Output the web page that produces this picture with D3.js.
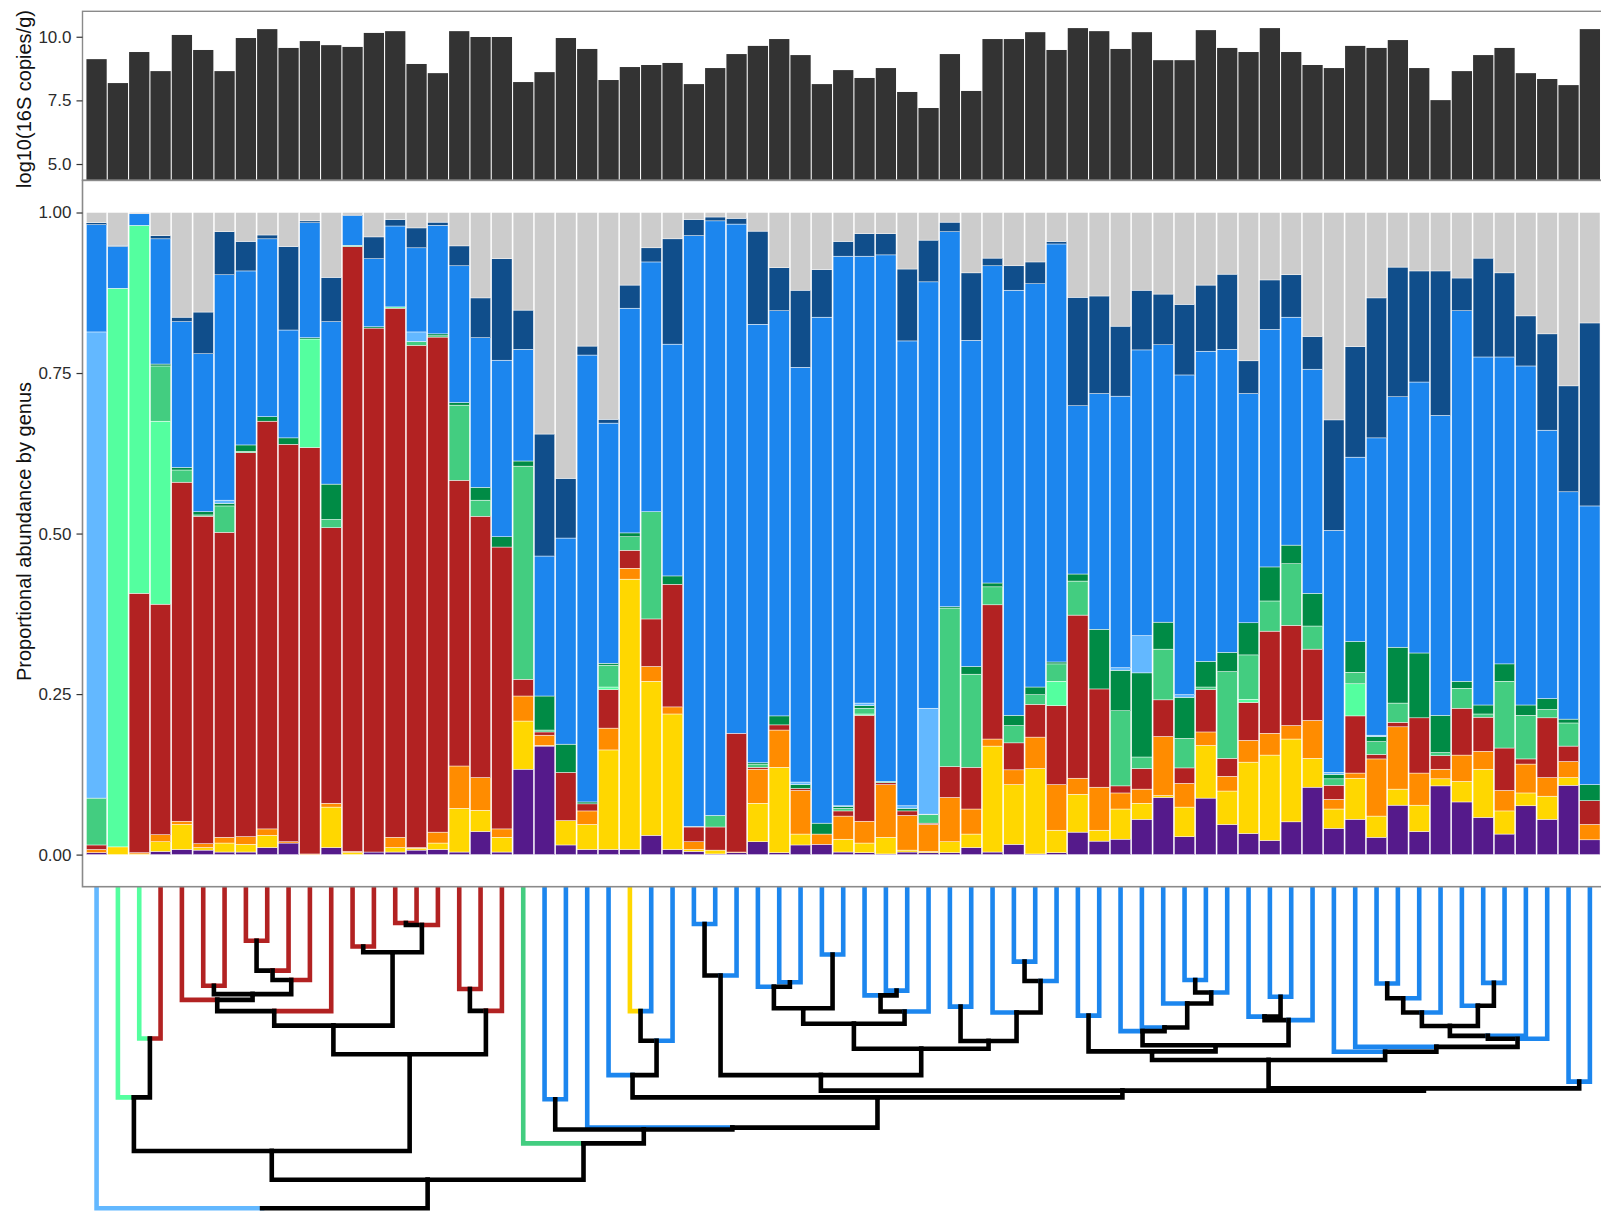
<!DOCTYPE html>
<html>
<head>
<meta charset="utf-8">
<script src="https://cdn.jsdelivr.net/npm/d3@7"></script>
<style>
  html, body { margin: 0; padding: 0; background: #ffffff; }
  svg { display: block; }
  text { font-family: "Liberation Sans", Arial, Helvetica, sans-serif; }
</style>
</head>
<body>
<svg id="chart" width="1601" height="1215"></svg>
<script>
// ---- samples (in dendrogram order) ----
const samples = d3.range(1, 72).map(i => "S" + String(i).padStart(2, "0"));

// ---- total bacterial load, log10(16S copies/g) ----
const log16S = [
  9.12, 8.18, 9.40, 8.65, 10.07, 9.48, 8.65, 9.95, 10.30, 9.56,
  9.83, 9.67, 9.60, 10.15, 10.22, 8.93, 8.57, 10.22, 9.99, 9.99,
  8.22, 8.61, 9.95, 9.52, 8.30, 8.81, 8.89, 8.97, 8.14, 8.77,
  9.32, 9.64, 9.91, 9.28, 8.14, 8.69, 8.38, 8.77, 7.83, 7.20,
  9.32, 7.87, 9.91, 9.91, 10.18, 9.48, 10.34, 10.22, 9.52, 10.18,
  9.08, 9.08, 10.26, 9.56, 9.40, 10.34, 9.40, 8.89, 8.77, 9.64,
  9.56, 9.87, 8.77, 7.51, 8.65, 9.28, 9.56, 8.57, 8.34, 8.10,
  10.30
];
const log16STicks = [5.0, 7.5, 10.0];

// ---- proportional abundance by genus (stacked bottom to top) ----
const purpleGenus = [
  .003,0,0,.005,.008,.007,.004,.004,.011,.018,
  0,.011,0,.004,.004,.007,.008,.004,.036,.004,
  .133,.169,.015,.008,.008,.008,.030,.008,.005,.001,
  .003,.020,.003,.015,.016,.004,.003,.001,.004,.003,
  .003,.011,.004,.016,.001,.003,.035,.021,.024,.055,
  .089,.028,.088,.047,.033,.022,.051,.105,.041,.055,
  .027,.077,.036,.107,.082,.058,.032,.076,.055,.108,
  .023
];
const goldGenus = [
  0,.012,.001,.015,.039,.004,.014,.012,.019,0,
  0,.063,.003,0,.007,.003,.010,.068,.033,.023,
  .075,.001,.038,.039,.155,.421,.240,.211,.003,.006,
  0,.060,.133,.017,0,.020,.015,.026,.003,.002,
  .017,.021,.165,.093,.133,.035,.059,.017,.047,.025,
  .003,.046,.082,.052,.111,.133,.129,.045,.030,.064,
  .033,.025,.041,.011,.032,.075,.036,.020,.036,.012,
  0
];
const orangeGenus = [
  .005,0,.002,.011,.005,.006,.009,.012,.010,.002,
  .001,.006,.002,0,.016,.001,.017,.066,.051,.013,
  .039,.016,0,.021,.034,.017,.023,.011,.012,0,
  .001,.053,.058,.068,.016,.036,.034,.082,.054,.042,
  .069,.039,.011,.023,.049,.071,.025,.067,.025,.022,
  .092,.037,.021,.023,.034,.034,.021,.059,.015,.008,
  .089,.097,.050,.015,.041,.028,.032,.045,.029,.025,
  .024
];
const redGenus = [
  .007,0,.404,.359,.528,.510,.475,.598,.635,.619,
  .633,.429,.942,.816,.824,.782,.771,.445,.407,.439,
  .026,.005,.075,.011,.060,.028,.074,.191,.023,.036,
  .185,.003,.008,.003,0,.008,.165,.003,.007,.002,
  .048,.065,.209,.042,.051,.123,.254,.153,.011,.032,
  .057,.024,.066,.028,.059,.159,.156,.111,.022,.089,
  .007,.007,.086,.021,.073,.053,.066,.008,.093,.024,
  .037
];
const mintGenus = [
  0,.870,.573,.285,0,0,0,0,0,0,
  .169,0,0,0,.002,0,0,0,0,0,
  0,0,0,0,.004,0,0,0,0,0,
  0,0,0,0,0,0,.002,0,0,0,
  0,0,0,0,0,.038,0,0,0,0,
  0,0,0,0,.005,0,0,0,0,.050,
  0,0,0,0,0,0,0,0,0,0,
  0
];
const seaGreenGenus = [
  .073,0,0,.086,.019,.002,.041,.002,0,0,
  0,.013,.002,0,0,.006,.002,.117,.025,0,
  .332,.003,0,0,.034,.021,.167,0,0,.018,
  0,.005,0,0,0,.004,.009,.002,0,.013,
  .247,.145,.028,.027,.015,.027,.053,0,.117,.018,
  .079,.046,.004,.135,.069,.047,.096,.036,.010,.018,
  .020,.030,0,.005,.031,.005,.104,.068,.013,.036,
  0
];
const darkGreenGenus = [
  0,0,0,.003,.004,.005,.004,.010,.007,.010,
  .002,.055,0,.002,0,0,.003,.004,.020,.016,
  .008,.053,.044,.003,.003,.006,0,.013,.001,0,
  0,.002,.014,.006,.017,.003,.004,0,.004,.001,
  .002,.012,.006,.016,.012,.003,.011,.093,.063,.131,
  .042,.064,.040,.030,.050,.053,.029,.051,.007,.048,
  .008,.087,.101,.058,.011,.014,.027,.016,.017,.006,
  .025
];
const skyBlueGenus = [
  .726,0,0,0,0,0,.005,0,0,0,
  0,0,0,0,0,.015,0,0,0,0,
  0,0,0,0,0,0,0,0,0,0,
  0,0,0,.004,0,.001,.004,0,.004,.165,
  0,0,0,0,0,0,0,0,.004,.058,
  0,.004,0,0,0,0,0,0,.003,0,
  .002,0,0,0,0,0,0,0,0,0,
  0
];
const blueGenus = [
  .167,.065,.018,.195,.227,.246,.351,.271,.277,.168,
  .179,.253,.046,.106,.126,.131,.169,.213,.233,.275,
  .174,.218,.321,.696,.374,.350,.389,.361,.920,.926,
  .793,.683,.631,.646,.788,.856,.696,.820,.724,.664,
  .584,.508,.494,.662,.628,.651,.262,.367,.423,.445,
  .432,.498,.483,.472,.357,.370,.355,.349,.377,.287,
  .463,.390,.422,.467,.577,.542,.478,.528,.418,.354,
  .434
];
const navyGenus = [
  .003,.002,0,.005,.007,.065,.067,.046,.006,.130,
  .003,.069,.001,.034,.010,.031,.005,.031,.062,.158,
  .061,.190,.093,.014,.006,.036,.022,.164,.025,.006,
  .009,.145,.067,.120,.074,.023,.035,.033,.112,.065,
  .015,.105,.012,.038,.034,.004,.169,.152,.109,.093,
  .079,.110,.103,.117,.051,.077,.066,.051,.172,.172,
  .218,.202,.173,.225,.051,.154,.131,.078,.150,.165,
  .285
];
const otherGenera = [
  .016,.051,.002,.036,.163,.155,.030,.045,.035,.053,
  .013,.101,.004,.038,.011,.024,.015,.052,.133,.072,
  .152,.345,.414,.208,.322,.113,.055,.041,.011,.007,
  .009,.029,.086,.121,.089,.045,.033,.033,.088,.043,
  .015,.094,.071,.083,.077,.045,.132,.130,.177,.121,
  .127,.143,.113,.096,.231,.105,.097,.193,.323,.209,
  .133,.085,.091,.091,.102,.071,.094,.161,.189,.270,
  .172
];
const abundanceTicks = [0, 0.25, 0.5, 0.75, 1.0];

// ---- sample clustering: merges (negative = leaf index, positive = earlier merge row) ----
const mergePairs = [
  [-8,-9],[1,-10],[2,-11],[-6,-7],[4,3],[-5,5],[6,-12],[-13,-14],[-15,-16],[9,-17],
  [8,10],[7,11],[-18,-19],[13,-20],[12,14],[-3,-4],[-2,16],[17,15],[-22,-23],[-26,-27],
  [20,-28],[-25,21],[-29,-30],[23,-31],[-33,-34],[-32,25],[-35,-36],[26,27],[-38,-39],[-37,29],
  [30,-40],[28,31],[-41,-42],[-44,-45],[34,-46],[-43,35],[33,36],[32,37],[24,38],[-47,-48],
  [-52,-53],[41,-54],[-51,42],[-50,43],[-49,44],[-56,-57],[-55,46],[47,-58],[45,48],[40,49],
  [-61,-62],[51,-63],[52,-64],[-66,-67],[-65,54],[53,55],[56,-68],[57,-69],[-60,58],[-59,59],
  [50,60],[-70,-71],[61,62],[39,63],[22,64],[-24,65],[19,66],[-21,67],[18,68],[-1,69]
];
const mergeHeights = [
  .168,.261,.290,.308,.334,.352,.387,.186,.113,.119,
  .204,.432,.318,.386,.521,.472,.655,.822,.661,.387,
  .479,.586,.116,.276,.297,.311,.211,.378,.323,.338,
  .388,.426,.373,.233,.293,.391,.480,.504,.586,.401,
  .290,.329,.363,.438,.449,.342,.404,.415,.493,.512,
  .301,.347,.391,.299,.370,.433,.464,.473,.498,.513,
  .539,.606,.627,.634,.655,.749,.755,.798,.911,1.000
];

// ---- genus order and palette ----
const genera = [
  { key: "purpleGenus",    values: purpleGenus,    color: "#551A8B" },
  { key: "goldGenus",      values: goldGenus,      color: "#FFD700" },
  { key: "orangeGenus",    values: orangeGenus,    color: "#FF8C00" },
  { key: "redGenus",       values: redGenus,       color: "#B22222" },
  { key: "mintGenus",      values: mintGenus,      color: "#54FF9F" },
  { key: "seaGreenGenus",  values: seaGreenGenus,  color: "#43CD80" },
  { key: "darkGreenGenus", values: darkGreenGenus, color: "#008B45" },
  { key: "skyBlueGenus",   values: skyBlueGenus,   color: "#63B8FF" },
  { key: "blueGenus",      values: blueGenus,      color: "#1C86EE" },
  { key: "navyGenus",      values: navyGenus,      color: "#104E8B" },
  { key: "otherGenera",    values: otherGenera,    color: "#CCCCCC" }
];
const colorOf = Object.fromEntries(genera.map(g => [g.key, g.color]));

const rows = samples.map((s, i) => {
  const r = { sample: s };
  genera.forEach(g => { r[g.key] = g.values[i]; });
  return r;
});

// ---- layout ----
const plotLeft = 82.5, plotRight = 1603;
const topPanel = { top: 11.3, bottom: 180.3 };
const mainPanel = { top: 180.4, bottom: 886.7 };
const dendroBottom = 1208.3;
const borderColor = "#8a8a8a";

const svg = d3.select("#chart");

const x = d3.scaleBand()
  .domain(samples)
  .range([85.9, 85.9 + samples.length * 21.333])
  .paddingInner(0.05)
  .paddingOuter(0.025);

const yTop = d3.scaleLinear().domain([4.36, 11.0]).range([topPanel.bottom, topPanel.top]);
const yMain = d3.scaleLinear().domain([-0.05, 1.05]).range([mainPanel.bottom, mainPanel.top]);
const yTree = d3.scaleLinear().domain([0, 1]).range([mainPanel.bottom, dendroBottom]);

// ---- top panel: load bars ----
svg.append("rect")
  .attr("x", plotLeft).attr("y", topPanel.top)
  .attr("width", plotRight - plotLeft).attr("height", topPanel.bottom - topPanel.top)
  .attr("fill", "#ffffff");

svg.append("g")
  .selectAll("rect")
  .data(samples)
  .join("rect")
  .attr("x", d => x(d))
  .attr("width", x.bandwidth())
  .attr("y", (d, i) => yTop(log16S[i]))
  .attr("height", (d, i) => topPanel.bottom - yTop(log16S[i]))
  .attr("fill", "#333333");

// ---- main panel: stacked genus bars ----
const stacked = d3.stack().keys(genera.map(g => g.key))(rows);

svg.append("g")
  .selectAll("g")
  .data(stacked)
  .join("g")
  .attr("fill", s => colorOf[s.key])
  .selectAll("rect")
  .data(s => s.filter(d => d[1] - d[0] > 0))
  .join("rect")
  .attr("x", d => x(d.data.sample))
  .attr("width", x.bandwidth())
  .attr("y", d => yMain(d[1]))
  .attr("height", d => yMain(d[0]) - yMain(d[1]))
  .attr("stroke", "#ffffff")
  .attr("stroke-width", 0.45);

// ---- dendrogram below the bars ----
const coreGenera = genera.filter(g => g.key !== "otherGenera");
const leafColor = k => {
  const i = k - 1;
  let best = coreGenera[0];
  coreGenera.forEach(g => { if (g.values[i] > best.values[i]) best = g; });
  return best.color;
};
const leafX = k => x(samples[k - 1]) + x.bandwidth() / 2;

const nodeX = [];
const place = ref => ref < 0
  ? { x: leafX(-ref), h: 0, leaf: -ref }
  : { x: nodeX[ref - 1], h: mergeHeights[ref - 1], leaf: null };

const branches = [];
mergePairs.forEach(([a, b], i) => {
  const pa = place(a), pb = place(b);
  nodeX[i] = (pa.x + pb.x) / 2;
  const h = mergeHeights[i];
  [pa, pb].forEach(p => {
    branches.push({
      x0: p.x, h0: p.h, h1: h, x1: nodeX[i],
      color: p.leaf ? leafColor(p.leaf) : "#000000"
    });
  });
});

svg.append("g")
  .attr("fill", "none")
  .attr("stroke-width", 4.6)
  .attr("stroke-linecap", "square")
  .attr("stroke-linejoin", "miter")
  .selectAll("path")
  .data(branches)
  .join("path")
  .attr("stroke", d => d.color)
  .attr("d", d => `M${d.x0},${yTree(d.h0)}V${yTree(d.h1)}H${d.x1}`);

// cover the square caps that poke above the panel edge
svg.append("rect")
  .attr("x", plotLeft).attr("y", mainPanel.bottom - 6)
  .attr("width", plotRight - plotLeft).attr("height", 6)
  .attr("fill", "#ffffff");

// ---- panel borders ----
svg.append("rect")
  .attr("x", plotLeft).attr("y", topPanel.top)
  .attr("width", plotRight - plotLeft).attr("height", topPanel.bottom - topPanel.top)
  .attr("fill", "none").attr("stroke", borderColor).attr("stroke-width", 1.4);
svg.append("rect")
  .attr("x", plotLeft).attr("y", mainPanel.top)
  .attr("width", plotRight - plotLeft).attr("height", mainPanel.bottom - mainPanel.top)
  .attr("fill", "none").attr("stroke", borderColor).attr("stroke-width", 1.6);

// ---- axes ----
function styleAxis(g) {
  g.select(".domain").remove();
  g.selectAll(".tick line").attr("stroke", "#333333").attr("stroke-width", 1.2);
  g.selectAll(".tick text")
    .attr("fill", "#2b2b2b")
    .style("font-size", "17px")
    .style("font-family", "'Liberation Sans', Arial, Helvetica, sans-serif");
}

svg.append("g")
  .attr("transform", `translate(${plotLeft},0)`)
  .call(d3.axisLeft(yTop).tickValues(log16STicks).tickFormat(d3.format(".1f")).tickSize(6).tickPadding(5))
  .call(styleAxis);

svg.append("g")
  .attr("transform", `translate(${plotLeft},0)`)
  .call(d3.axisLeft(yMain).tickValues(abundanceTicks).tickFormat(d3.format(".2f")).tickSize(6).tickPadding(5))
  .call(styleAxis);

// ---- axis titles ----
svg.append("text")
  .attr("transform", "translate(31,99) rotate(-90)")
  .attr("text-anchor", "middle")
  .attr("fill", "#111111")
  .style("font-size", "20px")
  .text("log10(16S copies/g)");

svg.append("text")
  .attr("transform", `translate(31,${(mainPanel.top + mainPanel.bottom) / 2 - 2}) rotate(-90)`)
  .attr("text-anchor", "middle")
  .attr("fill", "#111111")
  .style("font-size", "20px")
  .text("Proportional abundance by genus");
</script>
</body>
</html>
